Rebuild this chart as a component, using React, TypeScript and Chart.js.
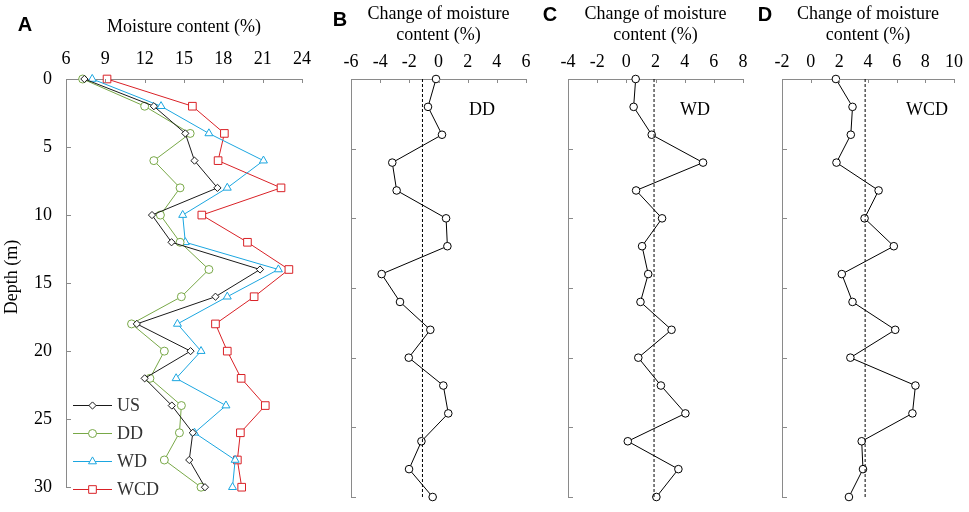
import React, { useEffect, useRef } from 'react';
import { Chart, registerables } from 'chart.js';

Chart.register(...registerables);

// ---------- data ----------
const depths = [0, 2, 4, 6, 8, 10, 12, 14, 16, 18, 20, 22, 24, 26, 28, 30];
const seriesNames = ['US', 'DD', 'WD', 'WCD'];
const usMoisture = [7.4, 12.7, 15.1, 15.8, 17.55, 12.56, 14.05, 20.8, 17.4, 11.4, 15.5, 12.0, 14.07, 15.67, 15.4, 16.6];
const ddMoisture = [7.27, 12.0, 15.47, 12.7, 14.7, 13.2, 14.7, 16.9, 14.8, 11.0, 13.5, 12.4, 14.8, 14.65, 13.5, 16.3];
const wdMoisture = [8.0, 13.25, 16.9, 21.06, 18.3, 14.9, 15.1, 22.2, 18.3, 14.5, 16.3, 14.4, 18.2, 15.8, 18.9, 18.7];
const wcdMoisture = [9.13, 15.64, 18.08, 17.6, 22.4, 16.36, 19.84, 23.0, 20.35, 17.4, 18.3, 19.36, 21.2, 19.3, 19.07, 19.4];
const ddChange = [-0.17, -0.72, 0.24, -3.17, -2.87, 0.52, 0.61, -3.9, -2.64, -0.56, -2.04, 0.33, 0.67, -1.17, -2.02, -0.4];
const wdChange = [0.64, 0.5, 1.74, 5.26, 0.67, 2.45, 1.08, 1.5, 0.97, 3.1, 0.82, 2.37, 4.05, 0.1, 3.57, 2.06];
const wcdChange = [1.76, 2.92, 2.8, 1.8, 4.74, 3.76, 5.8, 2.17, 2.92, 5.9, 2.77, 7.31, 7.1, 3.56, 3.65, 2.67];
const ddMean = -1.1;
const wdMean = 1.9;
const wcdMean = 3.8;
const moistureRange = [6, 24, 3];
const ddRange = [-6, 6, 2];
const wdRange = [-4, 8, 2];
const wcdRange = [-2, 10, 2];
const depthRange = [0, 30, 5];

// ---------- style ----------
const W = 969;
const H = 512;
const SERIF = '"Liberation Serif", "Times New Roman", serif';
const SANS = '"Liberation Sans", Arial, sans-serif';
const AXIS = '#8a8a8a';
const COLORS = ['#1a1a1a', '#78a847', '#1ba6e0', '#d92126'];
const STYLES = ['rectRot', 'circle', 'triangle', 'rect'];
const RADII = [3.6, 4, 4.6, 5.4];

const pts = (xs: number[], ys: number[]) => xs.map((x, i) => ({ x, y: ys[i] }));

function drawMarker(ctx: CanvasRenderingContext2D, style: string, x: number, y: number, r: number, color: string) {
  ctx.save();
  ctx.fillStyle = '#fff';
  ctx.strokeStyle = color;
  ctx.lineWidth = 1;
  ctx.beginPath();
  if (style === 'circle') {
    ctx.arc(x, y, r, 0, Math.PI * 2);
  } else if (style === 'rectRot') {
    ctx.moveTo(x, y - r);
    ctx.lineTo(x + r, y);
    ctx.lineTo(x, y + r);
    ctx.lineTo(x - r, y);
    ctx.closePath();
  } else if (style === 'triangle') {
    for (let k = 0; k < 3; k++) {
      const a = (k * 2 * Math.PI) / 3;
      const px = x + Math.sin(a) * r;
      const py = y - Math.cos(a) * r;
      if (k === 0) ctx.moveTo(px, py);
      else ctx.lineTo(px, py);
    }
    ctx.closePath();
  } else {
    const s = r * Math.SQRT1_2;
    ctx.rect(x - s, y - s, 2 * s, 2 * s);
  }
  ctx.fill();
  ctx.stroke();
  ctx.restore();
}

type Panel = {
  left: number;
  right: number;
  top: number;
  bottom: number;
  range: number[];
  title: string | string[];
  titlePad: number;
  tickPad: number;
  yLabels: boolean;
  datasets: any[];
  letter: string;
  letterPos: [number, number];
  tag?: { text: string; x: number; y: number };
  legend?: boolean;
  depthTitle?: boolean;
};

function makeConfig(p: Panel): any {
  const overlay = {
    id: 'overlay' + p.letter,
    afterDraw(chart: any) {
      const ctx = chart.ctx as CanvasRenderingContext2D;
      const xs = chart.scales.x;
      const ys = chart.scales.y;
      const { left, top } = chart.chartArea;
      ctx.save();
      ctx.strokeStyle = AXIS;
      ctx.lineWidth = 1;
      ctx.beginPath();
      xs.ticks.forEach((_t: any, i: number) => {
        const px = Math.round(xs.getPixelForTick(i)) + 0.5;
        ctx.moveTo(px, top);
        ctx.lineTo(px, top + 4);
      });
      ys.ticks.forEach((_t: any, i: number) => {
        const py = Math.round(ys.getPixelForTick(i)) + 0.5;
        ctx.moveTo(left, py);
        ctx.lineTo(left + 5, py);
      });
      ctx.stroke();

      ctx.fillStyle = '#000';
      ctx.font = `bold 20px ${SANS}`;
      ctx.textAlign = 'center';
      ctx.textBaseline = 'middle';
      ctx.fillText(p.letter, p.letterPos[0], p.letterPos[1]);

      if (p.tag) {
        ctx.font = `18px ${SERIF}`;
        ctx.textAlign = 'center';
        ctx.fillText(p.tag.text, p.tag.x, p.tag.y);
      }

      if (p.depthTitle) {
        ctx.save();
        ctx.translate(12, 277);
        ctx.rotate(-Math.PI / 2);
        ctx.font = `18px ${SERIF}`;
        ctx.textAlign = 'center';
        ctx.textBaseline = 'middle';
        ctx.fillText('Depth (m)', 0, 0);
        ctx.restore();
      }

      if (p.legend) {
        const rowsY = [405, 433, 461, 489];
        seriesNames.forEach((name, i) => {
          const y = rowsY[i];
          ctx.strokeStyle = COLORS[i];
          ctx.lineWidth = 1;
          ctx.beginPath();
          ctx.moveTo(73, y + 0.5);
          ctx.lineTo(112, y + 0.5);
          ctx.stroke();
          drawMarker(ctx, STYLES[i], 92.5, y + 0.5, RADII[i], COLORS[i]);
          ctx.fillStyle = '#333';
          ctx.font = `18px ${SERIF}`;
          ctx.textAlign = 'left';
          ctx.textBaseline = 'middle';
          ctx.fillText(name, 117, y + 1);
        });
      }
      ctx.restore();
    },
  };

  return {
    type: 'scatter',
    data: { datasets: p.datasets },
    options: {
      responsive: false,
      animation: false,
      events: [],
      layout: { padding: { left: 0, top: 0, right: W - p.right, bottom: H - p.bottom } },
      plugins: { legend: { display: false }, tooltip: { enabled: false } },
      scales: {
        x: {
          type: 'linear',
          position: 'top',
          min: p.range[0],
          max: p.range[1],
          ticks: { stepSize: p.range[2], padding: p.tickPad, color: '#000', font: { family: SERIF, size: 18 } },
          grid: { display: true, drawOnChartArea: false, drawTicks: false },
          border: { display: true, color: AXIS, width: 1 },
          title: {
            display: true,
            text: p.title,
            color: '#000',
            font: { family: SERIF, size: 18, lineHeight: 1.2 },
            padding: { top: p.titlePad, bottom: 0 },
          },
          afterFit: (s: any) => {
            s.height = p.top;
          },
        },
        y: {
          type: 'linear',
          min: depthRange[0],
          max: depthRange[1],
          reverse: true,
          ticks: {
            stepSize: depthRange[2],
            display: p.yLabels,
            padding: 14,
            color: '#000',
            font: { family: SERIF, size: 18 },
          },
          grid: { display: true, drawOnChartArea: false, drawTicks: false },
          border: { display: true, color: AXIS, width: 1 },
          afterFit: (s: any) => {
            s.width = p.left;
          },
        },
      },
    },
    plugins: [overlay],
  };
}

function seriesDataset(i: number, values: number[]) {
  return {
    label: seriesNames[i],
    data: pts(values, depths),
    showLine: true,
    borderColor: COLORS[i],
    borderWidth: 1,
    backgroundColor: '#fff',
    pointStyle: STYLES[i],
    pointRadius: RADII[i],
    pointBorderWidth: 1,
    pointBackgroundColor: '#fff',
    pointBorderColor: COLORS[i],
    clip: false,
  };
}

function changeDatasets(values: number[], mean: number) {
  return [
    {
      label: 'mean',
      data: [
        { x: mean, y: depthRange[0] },
        { x: mean, y: depthRange[1] },
      ],
      showLine: true,
      borderColor: '#000',
      borderWidth: 1,
      borderDash: [3, 2],
      pointRadius: 0,
      clip: false,
    },
    {
      label: 'change',
      data: pts(values, depths),
      showLine: true,
      borderColor: '#000',
      borderWidth: 1,
      pointStyle: 'circle',
      pointRadius: 3.8,
      pointBorderWidth: 1,
      pointBackgroundColor: '#fff',
      pointBorderColor: '#000',
      clip: false,
    },
  ];
}

const TWO_LINE = ['Change of moisture', 'content (%)'];

const panels: Panel[] = [
  {
    left: 66,
    right: 302,
    top: 79,
    bottom: 497,
    range: moistureRange,
    title: 'Moisture content (%)',
    titlePad: 16,
    tickPad: 9,
    yLabels: true,
    datasets: [
      seriesDataset(0, usMoisture),
      seriesDataset(1, ddMoisture),
      seriesDataset(2, wdMoisture),
      seriesDataset(3, wcdMoisture),
    ],
    letter: 'A',
    letterPos: [25, 25],
    legend: true,
    depthTitle: true,
  },
  {
    left: 351,
    right: 526,
    top: 79,
    bottom: 497,
    range: ddRange,
    title: TWO_LINE,
    titlePad: 3,
    tickPad: 6,
    yLabels: false,
    datasets: changeDatasets(ddChange, ddMean),
    letter: 'B',
    letterPos: [340, 20],
    tag: { text: 'DD', x: 482, y: 110 },
  },
  {
    left: 568,
    right: 743,
    top: 79,
    bottom: 497,
    range: wdRange,
    title: TWO_LINE,
    titlePad: 3,
    tickPad: 6,
    yLabels: false,
    datasets: changeDatasets(wdChange, wdMean),
    letter: 'C',
    letterPos: [550, 15],
    tag: { text: 'WD', x: 695, y: 110 },
  },
  {
    left: 782,
    right: 957,
    top: 79,
    bottom: 497,
    range: wcdRange,
    title: TWO_LINE,
    titlePad: 3,
    tickPad: 6,
    yLabels: false,
    datasets: changeDatasets(wcdChange, wcdMean),
    letter: 'D',
    letterPos: [765, 15],
    tag: { text: 'WCD', x: 927, y: 110 },
  },
];

function PanelCanvas({ panel }: { panel: Panel }) {
  const ref = useRef<HTMLCanvasElement | null>(null);
  useEffect(() => {
    if (!ref.current) return;
    const chart = new Chart(ref.current, makeConfig(panel));
    return () => chart.destroy();
  }, [panel]);
  return (
    <canvas
      ref={ref}
      width={W}
      height={H}
      style={{ position: 'absolute', left: 0, top: 0, width: W, height: H }}
    />
  );
}

export default function App() {
  return (
    <div style={{ position: 'absolute', left: 0, top: 0, width: W, height: H, background: '#fff', overflow: 'hidden' }}>
      {panels.map((p) => (
        <PanelCanvas key={p.letter} panel={p} />
      ))}
    </div>
  );
}
